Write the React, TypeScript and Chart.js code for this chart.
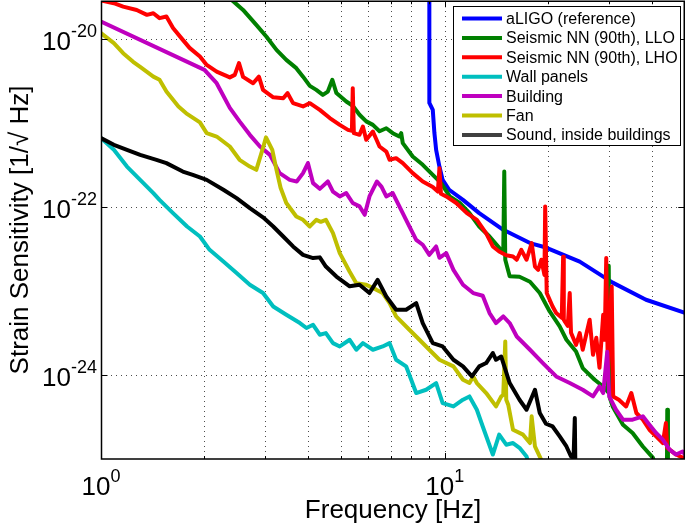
import React, { useEffect, useRef } from "react";
import { Chart, registerables } from "chart.js";

Chart.register(...registerables);

const FONT = '"Liberation Sans", Arial, Helvetica, sans-serif';

// ---------- labels ----------
const seriesNames = [
  "aLIGO (reference)",
  "Seismic NN (90th), LLO",
  "Seismic NN (90th), LHO",
  "Wall panels",
  "Building",
  "Fan",
  "Sound, inside buildings",
];
const seriesColors = ["#0000ff", "#008000", "#ff0000", "#00bfbf", "#bf00bf", "#bfbf00", "#000000"];
const legendColors = ["#0000ff", "#008000", "#ff0000", "#00bfbf", "#bf00bf", "#bfbf00", "#404040"];

const xTitle = "Frequency [Hz]";
const yTitle = "Strain Sensitivity [1/\u221A Hz]";

const xTickValues = [1, 10];
const xTickExponents = ["0", "1"];
const yTickValues = [1e-20, 1e-22, 1e-24];
const yTickExponents = ["-20", "-22", "-24"];
const xGridValues = [2, 3, 4, 5, 6, 7, 8, 9, 10, 20, 30, 40];

const xMin = 1;
const xMax = 50;
const yMin = 1e-25;
const yMax = 2.85e-20;

// ---------- data ----------
const aligoFreq = [9.02, 9.02, 9.23, 9.33, 9.44, 9.65, 9.86, 10.3, 11.3, 12.6, 14.8, 17.7, 19.7, 24.7, 30.8, 38.5, 50];
const aligoStrain = [1e-19, 1.74e-21, 1.44e-21, 7.67e-22, 4.81e-22, 3.04e-22, 2.11e-22, 1.61e-22, 1.22e-22, 8.48e-23, 5.37e-23, 3.73e-23, 3.3e-23, 2.24e-23, 1.26e-23, 7.88e-24, 5.52e-24];

const lloFreq = [2.22, 2.4, 2.59, 2.83, 3.03, 3.24, 3.46, 3.7, 3.87, 4.05, 4.23, 4.42, 4.57, 4.71, 4.84, 5.17, 5.4, 5.65, 5.91, 6.18, 6.46, 6.76, 7.06, 7.38, 7.47, 7.55, 8.07, 8.63, 9.23, 9.76, 10.34, 11.06, 11.8, 12.6, 13.5, 14.3, 14.8, 14.9, 15.0, 15.45, 16.5, 17.7, 18.9, 20.2, 21.6, 22.6, 24.1, 25.2, 27.3, 29.2, 29.8, 30.0, 30.2, 30.8, 33.0, 35.2, 37.7, 40.3, 41.6, 44.3, 44.4, 44.6, 50];
const lloStrain = [3.86e-20, 2.94e-20, 2.23e-20, 1.48e-20, 1.07e-20, 7.46e-21, 5.67e-21, 4.52e-21, 3.58e-21, 2.78e-21, 2.49e-21, 2.17e-21, 2.38e-21, 3.28e-21, 2.28e-21, 1.81e-21, 1.61e-21, 1.26e-21, 1.05e-21, 9.54e-22, 8.0e-22, 8.7e-22, 7.6e-22, 6.93e-22, 7.6e-22, 5.78e-22, 4.0e-22, 3.19e-22, 2.42e-22, 1.93e-22, 1.34e-22, 1.12e-22, 8.48e-23, 5.88e-23, 4.47e-23, 3.4e-23, 2.83e-23, 2.65e-22, 2.36e-23, 1.5e-23, 1.48e-23, 1.29e-23, 9.47e-24, 5.72e-24, 3.79e-24, 2.63e-24, 1.91e-24, 1.21e-24, 8.79e-25, 7.06e-25, 6.33e-25, 2.0e-23, 5.37e-25, 4.23e-25, 2.56e-25, 2.04e-25, 1.41e-25, 1.04e-25, 7.5e-26, 7e-26, 3.86e-25, 7e-26, 6e-26];

const lhoFreq = [1.0, 1.09, 1.16, 1.27, 1.36, 1.42, 1.48, 1.55, 1.62, 1.73, 1.81, 1.94, 2.03, 2.17, 2.37, 2.45, 2.52, 2.59, 2.77, 2.88, 2.96, 3.17, 3.39, 3.49, 3.62, 3.87, 4.05, 4.33, 4.63, 4.95, 5.23, 5.37, 5.4, 5.44, 5.65, 5.78, 5.91, 6.18, 6.46, 6.76, 6.91, 7.22, 7.55, 8.07, 8.63, 9.23, 9.55, 9.65, 9.75, 10.1, 10.8, 11.6, 12.4, 13.2, 13.8, 14.4, 15.1, 15.8, 16.2, 16.7, 17.3, 17.9, 18.3, 18.7, 19.1, 19.5, 19.6, 19.8, 20.6, 21.1, 21.9, 22.1, 22.2, 22.8, 23.1, 23.3, 24.1, 24.7, 25.2, 26.4, 27.0, 27.6, 28.2, 28.9, 29.2, 29.5, 29.85, 30.1, 30.6, 30.9, 32.1, 33.7, 34.9, 36.1, 37.7, 39.4, 41.2, 43.1, 44.0, 44.4, 47.1, 49.2, 50];
const lhoStrain = [2.9e-20, 2.68e-20, 2.44e-20, 2.23e-20, 1.95e-20, 2.04e-20, 1.78e-20, 1.86e-20, 1.36e-20, 9.81e-21, 7.88e-21, 6.21e-21, 4.94e-21, 4.11e-21, 3.51e-21, 3.76e-21, 5.18e-21, 3.56e-21, 2.99e-21, 3.58e-21, 2.49e-21, 2.03e-21, 1.98e-21, 2.28e-21, 1.73e-21, 1.58e-21, 1.73e-21, 1.44e-21, 1.15e-21, 9.54e-22, 8.32e-22, 8.1e-22, 2.61e-21, 7.6e-22, 7.26e-22, 9.11e-22, 6.33e-22, 7.94e-22, 5.27e-22, 4.59e-22, 3.66e-22, 3.83e-22, 3.34e-22, 2.54e-22, 2.02e-22, 1.74e-22, 1.53e-22, 2.91e-22, 1.44e-22, 1.34e-22, 1.12e-22, 8.48e-23, 7.06e-23, 4.88e-23, 3.4e-23, 2.96e-23, 2.67e-23, 2.58e-23, 2.36e-23, 3.1e-23, 2.36e-23, 3.73e-23, 1.96e-23, 1.79e-23, 2.36e-23, 1.56e-23, 1.02e-22, 9.47e-24, 6.55e-24, 5.47e-24, 4.81e-24, 2.56e-23, 4.55e-24, 3.86e-24, 9.47e-24, 3.19e-24, 2.29e-24, 3.16e-24, 2.0e-24, 4.55e-24, 1.74e-24, 2.78e-24, 1.22e-24, 5.22e-24, 2.63e-24, 2.47e-23, 8.79e-25, 3.34e-24, 1.13e-23, 5.56e-25, 5.08e-25, 4.23e-25, 6.1e-25, 3.53e-25, 2.94e-25, 2.23e-25, 1.86e-25, 1.55e-25, 2.68e-25, 1.36e-25, 1.13e-25, 1.04e-25, 9.3e-26];

const wallFreq = [1.0, 1.09, 1.19, 1.3, 1.42, 1.48, 1.62, 1.78, 1.94, 2.07, 2.27, 2.48, 2.71, 2.96, 3.17, 3.46, 3.79, 3.96, 4.14, 4.33, 4.51, 4.73, 4.95, 5.29, 5.53, 5.78, 6.18, 6.6, 6.91, 7.22, 7.72, 8.26, 8.83, 9.44, 9.86, 10.6, 11.3, 11.8, 12.4, 12.9, 13.8, 14.4, 15.1, 15.8, 16.5, 17.3, 17.7];
const wallStrain = [6.63e-22, 4.81e-22, 3.04e-22, 2.11e-22, 1.47e-22, 1.22e-22, 8.48e-23, 5.88e-23, 4.47e-23, 3.1e-23, 2.25e-23, 1.64e-23, 1.19e-23, 9.47e-24, 6.55e-24, 5.22e-24, 4.16e-24, 3.63e-24, 3.97e-24, 3.02e-24, 3.16e-24, 2.4e-24, 2.19e-24, 2.63e-24, 2.0e-24, 2.4e-24, 2.0e-24, 2.19e-24, 2.4e-24, 1.52e-24, 1.27e-24, 6.1e-25, 6.68e-25, 8.03e-25, 4.64e-25, 4.23e-25, 5.08e-25, 5.56e-25, 3.86e-25, 2.44e-25, 1.13e-25, 1.95e-25, 1.48e-25, 1.55e-25, 1.36e-25, 1.07e-25, 7.9e-26];

const buildingFreq = [1.0, 2.0, 2.17, 2.37, 2.53, 2.71, 2.9, 3.1, 3.31, 3.54, 3.71, 3.87, 4.0, 4.14, 4.33, 4.57, 4.73, 4.95, 5.17, 5.4, 5.65, 5.85, 6.04, 6.35, 6.55, 6.76, 7.06, 7.38, 7.72, 7.89, 8.26, 8.63, 9.02, 9.44, 9.65, 10.1, 10.6, 11.3, 12.1, 12.9, 13.5, 14.1, 14.8, 15.45, 16.2, 17.7, 19.3, 21.1, 23.1, 25.2, 27.0, 28.2, 28.9, 29.7, 30.1, 31.5, 33.0, 35.2, 37.7, 39.4, 41.2, 43.1, 45.1, 47.1, 49.2, 50];
const buildingStrain = [1.62e-20, 4.31e-21, 2.99e-21, 1.52e-21, 1.05e-21, 7.26e-22, 5.27e-22, 4.19e-22, 2.54e-22, 2.11e-22, 2.02e-22, 2.54e-22, 3.34e-22, 1.93e-22, 1.65e-22, 2.02e-22, 1.53e-22, 1.34e-22, 1.47e-22, 1.12e-22, 1.02e-22, 8.1e-23, 1.34e-22, 2.02e-22, 1.74e-22, 1.34e-22, 1.47e-22, 1.02e-22, 7.06e-23, 5.88e-23, 4.08e-23, 3.56e-23, 2.7e-23, 3.4e-23, 2.49e-23, 2.83e-23, 1.79e-23, 1.19e-23, 9.47e-24, 8.79e-24, 5.47e-24, 4.16e-24, 4.99e-24, 4.16e-24, 2.88e-24, 2.0e-24, 1.39e-24, 9.62e-25, 8.03e-25, 6.68e-25, 5.56e-25, 7.32e-25, 6.1e-25, 1.89e-24, 5.56e-25, 3.86e-25, 2.94e-25, 2.94e-25, 3.22e-25, 2.56e-25, 2.04e-25, 1.7e-25, 1.29e-25, 1.13e-25, 1.23e-25, 1.13e-25];

const fanFreq = [1.0, 1.09, 1.16, 1.24, 1.3, 1.42, 1.48, 1.55, 1.68, 1.77, 1.94, 2.03, 2.17, 2.37, 2.53, 2.71, 2.83, 2.96, 3.02, 3.15, 3.24, 3.33, 3.46, 3.7, 3.87, 4.05, 4.23, 4.36, 4.51, 4.73, 4.95, 5.29, 5.53, 5.91, 6.32, 6.6, 6.91, 7.22, 7.89, 8.44, 9.02, 9.65, 10.6, 11.3, 11.8, 12.1, 12.4, 13.2, 14.1, 14.6, 14.8, 15.0, 15.1, 15.3, 15.8, 16.9, 17.7, 17.9, 18.3, 18.9, 19.5];
const fanStrain = [1.18e-20, 8.96e-21, 6.81e-21, 5.37e-21, 4.68e-21, 3.58e-21, 3.28e-21, 2.38e-21, 1.58e-21, 1.31e-21, 1.02e-21, 7.6e-22, 6.93e-22, 5.27e-22, 3.66e-22, 3.04e-22, 2.78e-22, 5.08e-22, 6.78e-22, 4.81e-22, 2.78e-22, 1.7e-22, 1.12e-22, 7.73e-23, 7.06e-23, 5.88e-23, 7.06e-23, 6.68e-23, 7.06e-23, 4.9e-23, 2.83e-23, 1.7e-23, 1.24e-23, 1.19e-23, 1.04e-23, 9.47e-24, 7.19e-24, 4.99e-24, 3.46e-24, 2.63e-24, 2.0e-24, 1.52e-24, 1.27e-24, 8.79e-25, 8.03e-25, 9.62e-25, 8.03e-25, 6.1e-25, 4.23e-25, 5.56e-25, 5.83e-25, 2.51e-24, 5.08e-25, 4.43e-25, 2.23e-25, 1.95e-25, 1.55e-25, 3.22e-25, 1.41e-25, 1.07e-25, 7.9e-26];

const soundFreq = [1.0, 1.09, 1.19, 1.3, 1.45, 1.55, 1.73, 1.85, 2.03, 2.27, 2.48, 2.71, 2.96, 3.17, 3.39, 3.62, 3.87, 4.14, 4.33, 4.51, 4.84, 5.29, 5.65, 6.04, 6.38, 6.76, 7.22, 7.72, 8.26, 8.63, 9.23, 9.86, 10.6, 11.3, 12.0, 12.6, 13.2, 13.8, 14.1, 14.6, 15.45, 16.5, 17.3, 18.3, 18.9, 19.7, 20.6, 21.6, 22.6, 23.3, 23.7, 23.9, 24.0];
const soundStrain = [6.63e-22, 5.52e-22, 4.81e-22, 4.19e-22, 3.66e-22, 3.34e-22, 2.65e-22, 2.42e-22, 2.11e-22, 1.61e-22, 1.28e-22, 9.73e-23, 7.56e-23, 5.88e-23, 4.47e-23, 3.4e-23, 2.7e-23, 2.47e-23, 2.52e-23, 1.96e-23, 1.49e-23, 1.14e-23, 1.19e-23, 9.47e-24, 1.36e-23, 8.62e-24, 5.99e-24, 5.99e-24, 7.19e-24, 4.16e-24, 2.4e-24, 2.19e-24, 1.52e-24, 1.27e-24, 9.62e-25, 1.27e-24, 1.39e-24, 1.83e-24, 1.52e-24, 1.66e-24, 8.03e-25, 5.08e-25, 3.86e-25, 6.68e-25, 3.53e-25, 2.63e-25, 2.44e-25, 1.86e-25, 1.41e-25, 1.07e-25, 1.04e-25, 3.07e-25, 7e-26];

const seriesFreqs = [aligoFreq, lloFreq, lhoFreq, wallFreq, buildingFreq, fanFreq, soundFreq];
const seriesValues = [aligoStrain, lloStrain, lhoStrain, wallStrain, buildingStrain, fanStrain, soundStrain];

function drawPower(ctx: CanvasRenderingContext2D, exp: string, x: number, baseY: number, expY: number, align: "right" | "center") {
  ctx.font = `26px ${FONT}`;
  const bw = ctx.measureText("10").width;
  ctx.font = `18px ${FONT}`;
  const ew = ctx.measureText(exp).width;
  const start = align === "right" ? x - bw - ew : x - (bw + ew) / 2;
  ctx.textAlign = "left";
  ctx.textBaseline = "alphabetic";
  ctx.font = `26px ${FONT}`;
  ctx.fillText("10", start, baseY);
  ctx.font = `18px ${FONT}`;
  ctx.fillText(exp, start + bw, expY);
}

const matlabAxes = {
  id: "matlabAxes",
  beforeDatasetsDraw(chart: any) {
    const { ctx, chartArea: a, scales } = chart;
    const xs = scales.x;
    const ys = scales.y;
    ctx.save();
    ctx.strokeStyle = "rgba(0,0,0,0.7)";
    ctx.lineWidth = 1;
    ctx.setLineDash([1, 4]);
    for (const v of xGridValues) {
      const px = Math.round(xs.getPixelForValue(v)) + 0.5;
      ctx.beginPath();
      ctx.moveTo(px, a.top);
      ctx.lineTo(px, a.bottom);
      ctx.stroke();
    }
    for (const v of yTickValues) {
      const py = Math.round(ys.getPixelForValue(v)) + 0.5;
      ctx.beginPath();
      ctx.moveTo(a.left, py);
      ctx.lineTo(a.right, py);
      ctx.stroke();
    }
    ctx.restore();
  },
  afterDatasetsDraw(chart: any) {
    const { ctx, chartArea: a, scales } = chart;
    const xs = scales.x;
    const ys = scales.y;
    const L = a.left + 0.5;
    const R = a.right - 0.75;
    const T = a.top + 0.25;
    const B = a.bottom;
    ctx.save();
    ctx.setLineDash([]);
    ctx.strokeStyle = "#000";
    ctx.lineWidth = 1.5;
    ctx.strokeRect(L, T, R - L, B - T);

    // ticks
    ctx.lineWidth = 1;
    ctx.beginPath();
    for (const v of xGridValues) {
      const px = Math.round(xs.getPixelForValue(v)) + 0.5;
      const len = v === 10 ? 6 : 3;
      ctx.moveTo(px, B);
      ctx.lineTo(px, B - len);
      ctx.moveTo(px, T);
      ctx.lineTo(px, T + len);
    }
    for (const v of yTickValues) {
      const py = Math.round(ys.getPixelForValue(v)) + 0.5;
      ctx.moveTo(L, py);
      ctx.lineTo(L + 6, py);
      ctx.moveTo(R, py);
      ctx.lineTo(R - 6, py);
    }
    ctx.stroke();

    // tick labels
    ctx.fillStyle = "#000";
    yTickValues.forEach((v, i) => {
      const py = ys.getPixelForValue(v);
      drawPower(ctx, yTickExponents[i], 97, py + 10.7, py - 2, "right");
    });
    xTickValues.forEach((v, i) => {
      const px = xs.getPixelForValue(v);
      drawPower(ctx, xTickExponents[i], px, 495, 482, "center");
    });

    // axis titles
    ctx.font = `26px ${FONT}`;
    ctx.textAlign = "center";
    ctx.textBaseline = "alphabetic";
    ctx.fillText(xTitle, (a.left + a.right) / 2, 518);
    ctx.save();
    ctx.translate(28, 230);
    ctx.rotate(-Math.PI / 2);
    ctx.fillText(yTitle, 0, 0);
    ctx.restore();

    // legend
    const bx = 453.5, by = 6.5, bwid = 227, bh = 139;
    ctx.fillStyle = "#fff";
    ctx.fillRect(bx, by, bwid, bh);
    ctx.strokeStyle = "#000";
    ctx.lineWidth = 1;
    ctx.strokeRect(bx, by, bwid, bh);
    ctx.font = `16px ${FONT}`;
    ctx.textAlign = "left";
    ctx.textBaseline = "middle";
    seriesNames.forEach((name, i) => {
      const cy = 18.5 + i * 19.4;
      ctx.strokeStyle = legendColors[i];
      ctx.lineWidth = 4;
      ctx.beginPath();
      ctx.moveTo(462, cy);
      ctx.lineTo(502, cy);
      ctx.stroke();
      ctx.fillStyle = "#000";
      ctx.fillText(name, 506, cy + 1);
    });
    ctx.restore();
  },
};

export default function App() {
  const canvasRef = useRef<HTMLCanvasElement | null>(null);

  useEffect(() => {
    const canvas = canvasRef.current;
    if (!canvas) return;
    const datasets = seriesNames.map((name, i) => ({
      label: name,
      data: seriesFreqs[i].map((f, j) => ({ x: f, y: seriesValues[i][j] })),
      borderColor: seriesColors[i],
      backgroundColor: seriesColors[i],
      borderWidth: 4,
      pointRadius: 0,
      pointHoverRadius: 0,
      showLine: true,
      fill: false,
      tension: 0,
      order: seriesNames.length - i,
      clip: 0,
      borderJoinStyle: "round" as const,
      borderCapStyle: "round" as const,
    }));
    const chart = new Chart(canvas, {
      type: "scatter",
      data: { datasets },
      options: {
        responsive: false,
        maintainAspectRatio: false,
        animation: false,
        events: [],
        layout: { padding: { left: 101, right: 0, top: 1, bottom: 69 } },
        plugins: { legend: { display: false }, tooltip: { enabled: false } },
        scales: {
          x: { type: "logarithmic", min: xMin, max: xMax, display: false },
          y: { type: "logarithmic", min: yMin, max: yMax, display: false },
        },
      },
      plugins: [matlabAxes],
    } as any);
    return () => chart.destroy();
  }, []);

  return (
    <div style={{ position: "absolute", left: 0, top: 0, width: 685, height: 528, background: "#fff" }}>
      <canvas ref={canvasRef} width={685} height={528} style={{ width: 685, height: 528, display: "block" }} />
    </div>
  );
}
